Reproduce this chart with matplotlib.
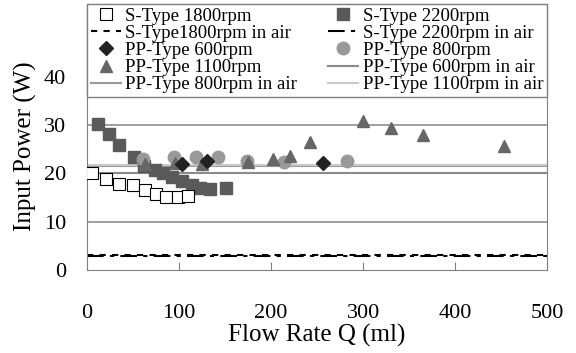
import numpy as np
import matplotlib
matplotlib.use("Agg")
import matplotlib.pyplot as plt
from matplotlib.lines import Line2D

plt.rcParams['font.family'] = ['Liberation Serif', 'DejaVu Serif']

# measured points
s1800_q = [6, 21, 35, 50, 63, 75, 86, 99, 110]
s1800_p = [20.2, 18.9, 17.8, 17.6, 16.6, 15.7, 15.2, 15.2, 15.4]

s2200_q = [12, 24, 35, 51, 62, 74, 83, 92, 103, 114, 123, 134, 151]
s2200_p = [30.3, 28.1, 25.9, 23.3, 21.5, 20.7, 20.0, 19.3, 18.5, 17.6, 17.1, 16.7, 17.1]

pp600_q = [103, 130, 256]
pp600_p = [21.9, 22.6, 22.1]

pp800_q = [61, 95, 118, 142, 174, 214, 282]
pp800_p = [22.9, 23.3, 23.5, 23.3, 22.6, 22.3, 22.6]

pp1100_q = [63, 96, 125, 175, 202, 221, 242, 300, 330, 365, 453]
pp1100_p = [21.9, 22.1, 21.9, 22.4, 23.0, 23.6, 26.6, 30.8, 29.3, 27.9, 25.7]

# no-load (in air) power levels
air_s1800 = 3.1
air_s2200 = 3.0
air_pp600 = 20.0
air_pp800 = 21.5
air_pp1100 = 21.8

fig = plt.figure(figsize=(5.76, 3.53), dpi=100)
ax = fig.add_axes([0.151, 0.234, 0.799, 0.755])

for yv in [10, 20, 30, 40]:
    ax.axhline(yv, color='#8f8f8f', lw=1.2, zorder=1)

h_s1800air = ax.axhline(air_s1800, color='black', lw=1.5, ls=(0, (3, 3)), zorder=2)
h_s2200air = ax.axhline(air_s2200, color='black', lw=1.5, ls=(0, (8, 3, 2, 3)), zorder=2)
h_pp600air = ax.axhline(air_pp600, color='#8a8a8a', lw=1.5, zorder=2)
h_pp800air = ax.axhline(air_pp800, color='#9a9a9a', lw=1.5, zorder=2)
h_pp1100air = ax.axhline(air_pp1100, color='#c8c8c8', lw=1.5, zorder=2)

ms = 8.5
h_s2200, = ax.plot(s2200_q, s2200_p, 's', ms=ms, color='#5a5a5a', mec='#5a5a5a', zorder=3)
h_pp800, = ax.plot(pp800_q, pp800_p, 'o', ms=ms + 0.5, color='#999999', mec='#999999', zorder=3)
h_pp1100, = ax.plot(pp1100_q, pp1100_p, '^', ms=ms + 0.5, color='#666666', mec='#666666', zorder=4)
h_pp600, = ax.plot(pp600_q, pp600_p, 'D', ms=ms - 1.5, color='#222222', mec='#222222', zorder=4)
h_s1800, = ax.plot(s1800_q, s1800_p, 's', ms=ms, mfc='white', mec='black', mew=0.8, zorder=5)

ax.set_xlim(0, 500)
ax.set_ylim(0, 55)
ax.set_xticks([0, 100, 200, 300, 400, 500])
ax.set_yticks([0, 10, 20, 30, 40])
ax.tick_params(axis='both', direction='in', labelsize=16, color='#808080')
ax.tick_params(axis='x', length=6, pad=24)
ax.tick_params(axis='y', length=0, pad=15)
for sp in ax.spines.values():
    sp.set_color('#808080')

ax.set_xlabel('Flow Rate Q (ml)', fontsize=18, labelpad=1)
ax.set_ylabel('Input Power (W)', fontsize=18)
ax.yaxis.set_label_coords(-0.109, 0.467)

handles = [h_s1800, h_s1800air, h_pp600, h_pp1100, h_pp800air,
           h_s2200, h_s2200air, h_pp800, h_pp600air, h_pp1100air]
labels = ['S-Type 1800rpm', 'S-Type1800rpm in air', 'PP-Type 600rpm',
          'PP-Type 1100rpm', 'PP-Type 800rpm in air',
          'S-Type 2200rpm', 'S-Type 2200rpm in air', 'PP-Type 800rpm',
          'PP-Type 600rpm in air', 'PP-Type 1100rpm in air']
leg = ax.legend(handles, labels, ncol=2, loc='upper left',
                bbox_to_anchor=(0, 0.655, 1, 0.345), mode='expand',
                borderaxespad=0, fontsize=13.5, labelspacing=0.0,
                handlelength=1.6, handletextpad=0.25, columnspacing=0.5,
                borderpad=0.2, fancybox=False, framealpha=1, edgecolor='#808080')
leg.get_frame().set_linewidth(1.0)
leg.set_zorder(10)

fig.savefig('out.png', dpi=100)
